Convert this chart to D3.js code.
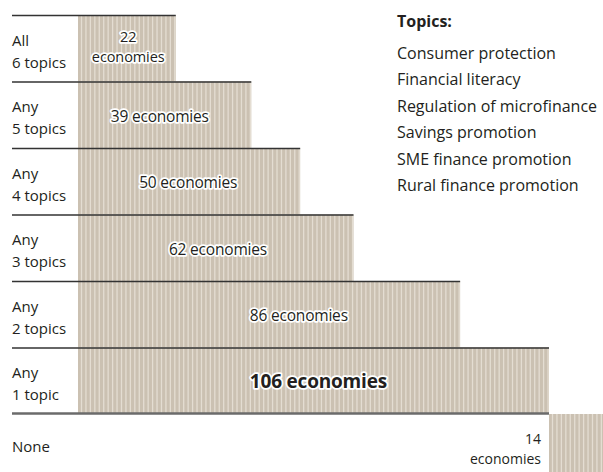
<!DOCTYPE html>
<html>
<head>
<meta charset="utf-8">
<script src="https://cdn.jsdelivr.net/npm/d3@7"></script>
<style>
  body { margin: 0; background: #fff; }
  svg { display: block; font-family: "Open Sans", sans-serif; }
</style>
</head>
<body>
<div id="chart"></div>
<script>
// rows, top to bottom
const rowLines1 = ["All", "Any", "Any", "Any", "Any", "Any", "None"];
const rowLines2 = ["6 topics", "5 topics", "4 topics", "3 topics", "2 topics", "1 topic", ""];
const economies = [22, 39, 50, 62, 86, 106, 14];
// where the count label sits along the bar (in economies)
const labelAt = [11.3, 18.4, 24.8, 31.5, 49.7, 54.1];
const topics = ["Consumer protection", "Financial literacy", "Regulation of microfinance",
                "Savings promotion", "SME finance promotion", "Rural finance promotion"];

const width = 603, height = 472;
const svg = d3.select("#chart").append("svg")
    .attr("width", width)
    .attr("height", height);

const y = d3.scaleBand()
    .domain(d3.range(rowLines1.length))
    .range([15, 15 + 66.5 * rowLines1.length])
    .padding(0);

const x = d3.scaleLinear()
    .domain([0, 106])
    .range([78, 549]);

const unit = x(1) - x(0);
const last = economies.length - 1;

// bar start: the "None" bar begins where "Any 1 topic" ends
const startOf = i => i === last ? economies[last - 1] : 0;

const rows = svg.selectAll(".row")
    .data(economies)
    .enter().append("g")
    .attr("class", "row");

// bars, one stripe per economy
rows.each(function(v, i) {
    const g = d3.select(this);
    const s = startOf(i);
    g.append("rect")
        .attr("x", x(s))
        .attr("y", y(i))
        .attr("width", x(s + v) - x(s))
        .attr("height", y.bandwidth())
        .attr("fill", "#cbc1b2");
    g.selectAll(".stripe")
        .data(d3.range(v))
        .enter().append("rect")
        .attr("class", "stripe")
        .attr("x", k => x(s + k) + unit - 1.6)
        .attr("y", y(i))
        .attr("width", 1.3)
        .attr("height", y.bandwidth())
        .attr("fill", "#e4ddd2");
});

// top rule of each row
svg.selectAll(".rule")
    .data(economies.slice(0, last))
    .enter().append("line")
    .attr("class", "rule")
    .attr("x1", 12)
    .attr("x2", d => x(d))
    .attr("y1", (d, i) => y(i) + 0.5)
    .attr("y2", (d, i) => y(i) + 0.5)
    .attr("stroke", "#333")
    .attr("stroke-width", 1.6);

// base rule above "None"
svg.append("line")
    .attr("x1", 12)
    .attr("x2", x(economies[last - 1]))
    .attr("y1", y(last) - 0.5)
    .attr("y2", y(last) - 0.5)
    .attr("stroke", "#6b6b6b")
    .attr("stroke-width", 2.4);

// row labels
const rowLab = svg.selectAll(".rowlab")
    .data(rowLines1)
    .enter().append("text")
    .attr("class", "rowlab")
    .attr("x", 12)
    .attr("y", (d, i) => i === last ? y(i) + 38 : y(i) + 30.5)
    .attr("font-size", "15px")
    .attr("fill", "#231f20");
rowLab.append("tspan").text(d => d);
rowLab.append("tspan")
    .attr("x", 12)
    .attr("dy", 22)
    .text((d, i) => rowLines2[i]);

// count labels on bars
const halo = sel => sel
    .attr("stroke", "#fff")
    .attr("stroke-width", 3.5)
    .attr("stroke-linejoin", "round")
    .attr("paint-order", "stroke")
    .attr("fill", "#231f20");

svg.selectAll(".count")
    .data(economies.slice(1, last))
    .enter().append("text")
    .attr("class", "count")
    .attr("x", (d, i) => x(labelAt[i + 1]))
    .attr("y", (d, i) => y(i + 1) + y.bandwidth() / 2 + 7)
    .attr("text-anchor", "middle")
    .attr("font-size", (d, i) => i + 1 === last - 1 ? "19px" : "15.5px")
    .attr("font-weight", (d, i) => i + 1 === last - 1 ? "bold" : "normal")
    .attr("letter-spacing", "-0.2px")
    .text(d => `${d} economies`)
    .call(halo);

// first row: two lines
const first = svg.append("text")
    .attr("x", x(labelAt[0]))
    .attr("y", y(0) + 27)
    .attr("text-anchor", "middle")
    .attr("font-size", "14.5px")
    .attr("letter-spacing", "-0.1px")
    .call(halo);
first.append("tspan").text(economies[0]);
first.append("tspan").attr("x", x(labelAt[0])).attr("dy", 20).text("economies");

// "None" label, left of its bar
const none = svg.append("text")
    .attr("x", x(economies[last - 1]) - 8)
    .attr("y", y(last) + 30)
    .attr("text-anchor", "end")
    .attr("font-size", "14px")
    .attr("fill", "#231f20");
none.append("tspan").text(economies[last]);
none.append("tspan").attr("x", x(economies[last - 1]) - 8).attr("dy", 19.5).text("economies");

// topics legend
svg.append("text")
    .attr("x", 397)
    .attr("y", 27)
    .attr("font-size", "16px")
    .attr("font-weight", "bold")
    .attr("fill", "#231f20")
    .text("Topics:");

svg.selectAll(".topic")
    .data(topics)
    .enter().append("text")
    .attr("class", "topic")
    .attr("x", 397)
    .attr("y", (d, i) => 59 + i * 26.4)
    .attr("font-size", "16px")
    .attr("fill", "#231f20")
    .text(d => d);
</script>
</body>
</html>
